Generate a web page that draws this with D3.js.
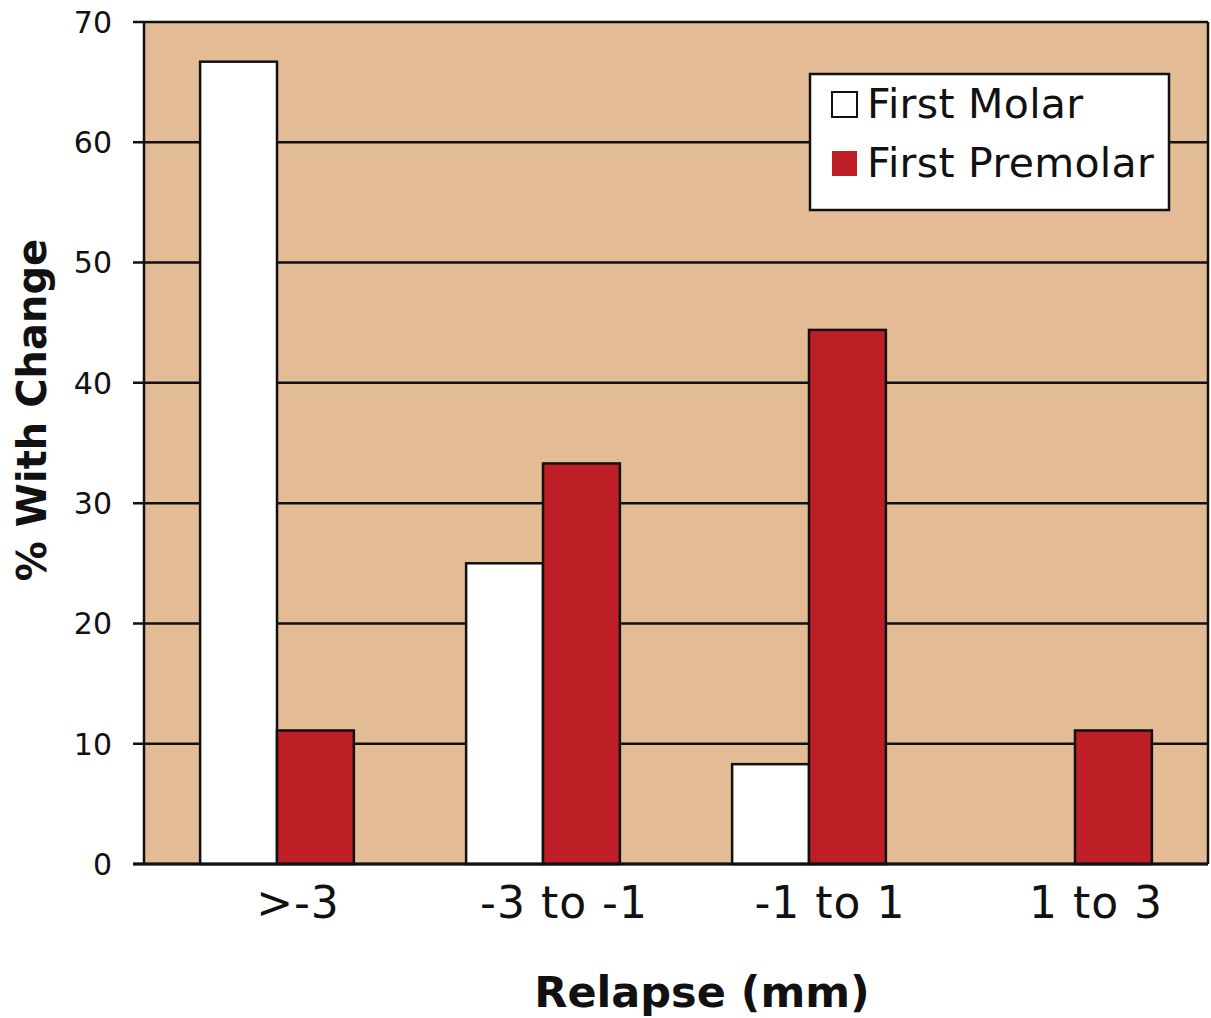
<!DOCTYPE html>
<html>
<head>
<meta charset="utf-8">
<script src="https://cdn.jsdelivr.net/npm/d3@7"></script>
<style>
  body { margin: 0; background: #fff; }
  text { font-family: "DejaVu Sans", Verdana, sans-serif; fill: #111; }
</style>
</head>
<body>
<script>
var categories = ['>-3', '-3 to -1', '-1 to 1', '1 to 3'];
var series = ['First Molar', 'First Premolar'];
var molar = [66.7, 25, 8.3, 0];
var premolar = [11.1, 33.3, 44.4, 11.1];
var yTicks = [0, 10, 20, 30, 40, 50, 60, 70];
var colors = ['#ffffff', '#be1e25'];

var width = 1211;
var height = 1018;
var plotLeft = 144, plotRight = 1208, plotTop = 22, plotBottom = 864;

var svg = d3.select('body').append('svg').attr('width', width).attr('height', height);

var x0 = d3.scaleBand().domain(categories).range([plotLeft, plotRight]);
var x1 = d3.scaleBand().domain(series).range([0, x0.bandwidth()]).paddingOuter(0.73);
var y = d3.scaleLinear().domain([0, 70]).range([plotBottom, plotTop]);
var color = d3.scaleOrdinal().domain(series).range(colors);

// plot background
svg.append('rect').attr('x', plotLeft).attr('y', plotTop)
  .attr('width', plotRight - plotLeft).attr('height', plotBottom - plotTop).attr('fill', '#e3bc96');

// gridlines + tick marks
svg.append('g').selectAll('line').data(yTicks).enter().append('line')
  .attr('x1', plotLeft - 11).attr('x2', plotRight)
  .attr('y1', y).attr('y2', y)
  .attr('stroke', '#111').attr('stroke-width', 2.5);

svg.append('g').selectAll('text').data(yTicks).enter().append('text')
  .attr('x', 112).attr('y', y).attr('dy', '0.36em')
  .attr('text-anchor', 'end').style('font-size', '30px')
  .text(function(d) { return d; });

// bars
var rows = categories.map(function(c, i) {
  return { cat: c, values: [{ key: series[0], value: molar[i] }, { key: series[1], value: premolar[i] }] };
});

svg.append('g').selectAll('g').data(rows).enter().append('g')
  .attr('transform', function(d) { return 'translate(' + x0(d.cat) + ',0)'; })
  .selectAll('rect').data(function(d) { return d.values.filter(function(v) { return v.value > 0; }); }).enter().append('rect')
  .attr('x', function(d) { return x1(d.key); })
  .attr('y', function(d) { return y(d.value); })
  .attr('width', x1.bandwidth())
  .attr('height', function(d) { return plotBottom - y(d.value); })
  .attr('fill', function(d) { return color(d.key); })
  .attr('stroke', '#111').attr('stroke-width', 2.5);

// frame
svg.append('line').attr('x1', plotLeft).attr('x2', plotLeft).attr('y1', plotTop).attr('y2', plotBottom).attr('stroke', '#111').attr('stroke-width', 2.5);
svg.append('line').attr('x1', plotRight).attr('x2', plotRight).attr('y1', plotTop).attr('y2', plotBottom).attr('stroke', '#111').attr('stroke-width', 2.5);
svg.append('line').attr('x1', plotLeft - 11).attr('x2', plotRight).attr('y1', plotBottom).attr('y2', plotBottom).attr('stroke', '#111').attr('stroke-width', 3);

// category labels
svg.append('g').selectAll('text').data(categories).enter().append('text')
  .attr('x', function(d) { return x0(d) + x0.bandwidth() / 2 + 21; })
  .attr('y', 918).attr('text-anchor', 'middle').style('font-size', '44px')
  .style('letter-spacing', '1px')
  .text(function(d) { return d; });

// axis titles
svg.append('text').attr('x', 702).attr('y', 1007).attr('text-anchor', 'middle')
  .style('font-size', '43px').style('font-weight', 'bold').text('Relapse (mm)');
svg.append('text').attr('transform', 'translate(46,410) rotate(-90)').attr('text-anchor', 'middle')
  .style('font-size', '40px').style('font-weight', 'bold').text('% With Change');

// legend
var legend = svg.append('g');
legend.append('rect').attr('x', 810).attr('y', 74).attr('width', 359).attr('height', 136)
  .attr('fill', '#fff').attr('stroke', '#111').attr('stroke-width', 2.5);
var item = legend.selectAll('g').data(series).enter().append('g')
  .attr('transform', function(d, i) { return 'translate(0,' + (i * 59) + ')'; });
item.append('rect').attr('x', 832).attr('y', 92).attr('width', 25).attr('height', 25)
  .attr('fill', color).attr('stroke', function(d, i) { return i === 0 ? '#111' : 'none'; }).attr('stroke-width', 2);
item.append('text').attr('x', 867).attr('y', 118).style('font-size', '41px')
  .style('letter-spacing', '0.3px')
  .text(function(d) { return d; });
</script>
</body>
</html>
